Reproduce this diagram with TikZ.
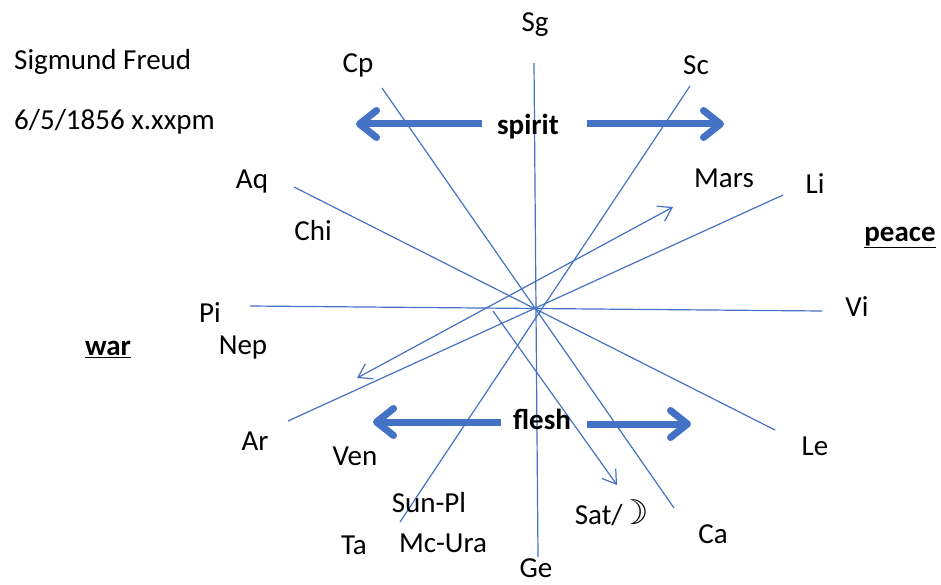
\documentclass[tikz,border=0pt]{standalone}
\usepackage{fontspec}
\setmainfont{Carlito}
\newfontfamily\symfont{DejaVu Sans}
\usetikzlibrary{arrows.meta}
\definecolor{lineblue}{HTML}{4472C4}

\begin{document}
\begin{tikzpicture}[x=1pt,y=-1pt,
  sign/.style={font=\fontsize{29}{34}\selectfont,inner sep=0pt,text height=18.6pt,text depth=0pt},
  ray/.style={lineblue,line width=1.2pt},
  thinarrow/.style={ray,-{Straight Barb[length=13pt,width=17pt]}},
  bigarrow/.style={lineblue,line width=7pt,-{Straight Barb[length=17pt,width=27pt,round]}}]
\useasboundingbox (0,0) rectangle (941,585);
% end points of the rays
\coordinate (sgtop) at (534,63);
\coordinate (gebot) at (538,557);
\coordinate (cptop) at (382,88);
\coordinate (cabot) at (674,508);
\coordinate (sctop) at (690,86);
\coordinate (tabot) at (400,522);
\coordinate (aqend) at (294,187);
\coordinate (leend) at (775,430);
\coordinate (liend) at (783,195);
\coordinate (arend) at (288,421);
\coordinate (piend) at (250,306);
\coordinate (viend) at (822,311);
\draw[ray] (sgtop) -- (gebot);
\draw[ray] (cptop) -- (cabot);
\draw[ray] (sctop) -- (tabot);
\draw[ray] (aqend) -- (leend);
\draw[ray] (liend) -- (arend);
\draw[ray] (piend) -- (viend);
% thin arrows
\coordinate (marstip) at (673,207);
\coordinate (neptip) at (357,378);
\coordinate (satfrom) at (493,311);
\coordinate (sattip) at (617,485);
\draw[ray,{Straight Barb[length=13pt,width=17pt]}-{Straight Barb[length=13pt,width=17pt]}] (neptip) -- (marstip);
\draw[thinarrow] (satfrom) -- (sattip);
% labels
\node[sign,anchor=west] (name) at (14,60) {Sigmund Freud};
\node[sign,anchor=west] (date) at (14,120) {6/5/1856 x.xxpm};
\node[sign] (sg) at (535,22) {Sg};
\node[sign] (cp) at (358,63) {Cp};
\node[sign] (sc) at (696,65) {Sc};
\node[sign] (mars) at (724,178) {Mars};
\node[sign] (li) at (815,184) {Li};
\node[sign] (aq) at (252,179) {Aq};
\node[sign] (chi) at (313,231) {Chi};
\node[sign] (pi) at (210,313) {Pi};
\node[sign] (vi) at (857,307) {Vi};
\node[sign] (nep) at (243,345) {Nep};
\node[sign] (ar) at (255,441) {Ar};
\node[sign] (ven) at (355,456) {Ven};
\node[sign] (le) at (815,446) {Le};
\node[sign] (sunpl) at (429,503) {Sun-Pl};
\node[sign] (sat) at (612,515) {Sat/\kern-4pt{\symfont\fontsize{34}{38}\selectfont ☽}};
\node[sign] (ca) at (713,534) {Ca};
\node[sign] (ta) at (354,545) {Ta};
\node[sign] (mcura) at (443,543) {Mc-Ura};
\node[sign] (ge) at (536,568) {Ge};
\node[sign,font=\fontsize{29}{34}\selectfont\bfseries] (peace) at (900,232) {\underline{peace}};
\node[sign,font=\fontsize{29}{34}\selectfont\bfseries] (war) at (108,346) {\underline{war}};
\node[sign,font=\fontsize{29}{34}\selectfont\bfseries] (spirit) at (528,125) {spirit};
\node[sign,font=\fontsize{29}{34}\selectfont\bfseries] (flesh) at (542,420) {flesh};
% thick arrows
\coordinate (spl) at (356,124);
\coordinate (spr) at (724,124);
\coordinate (fll) at (373,422);
\coordinate (flr) at (691,424);
\draw[bigarrow] (482,124) -- (spl);
\draw[bigarrow] (587,124) -- (spr);
\draw[bigarrow] (501,422) -- (fll);
\draw[bigarrow] (587,424) -- (flr);
\end{tikzpicture}
\end{document}
